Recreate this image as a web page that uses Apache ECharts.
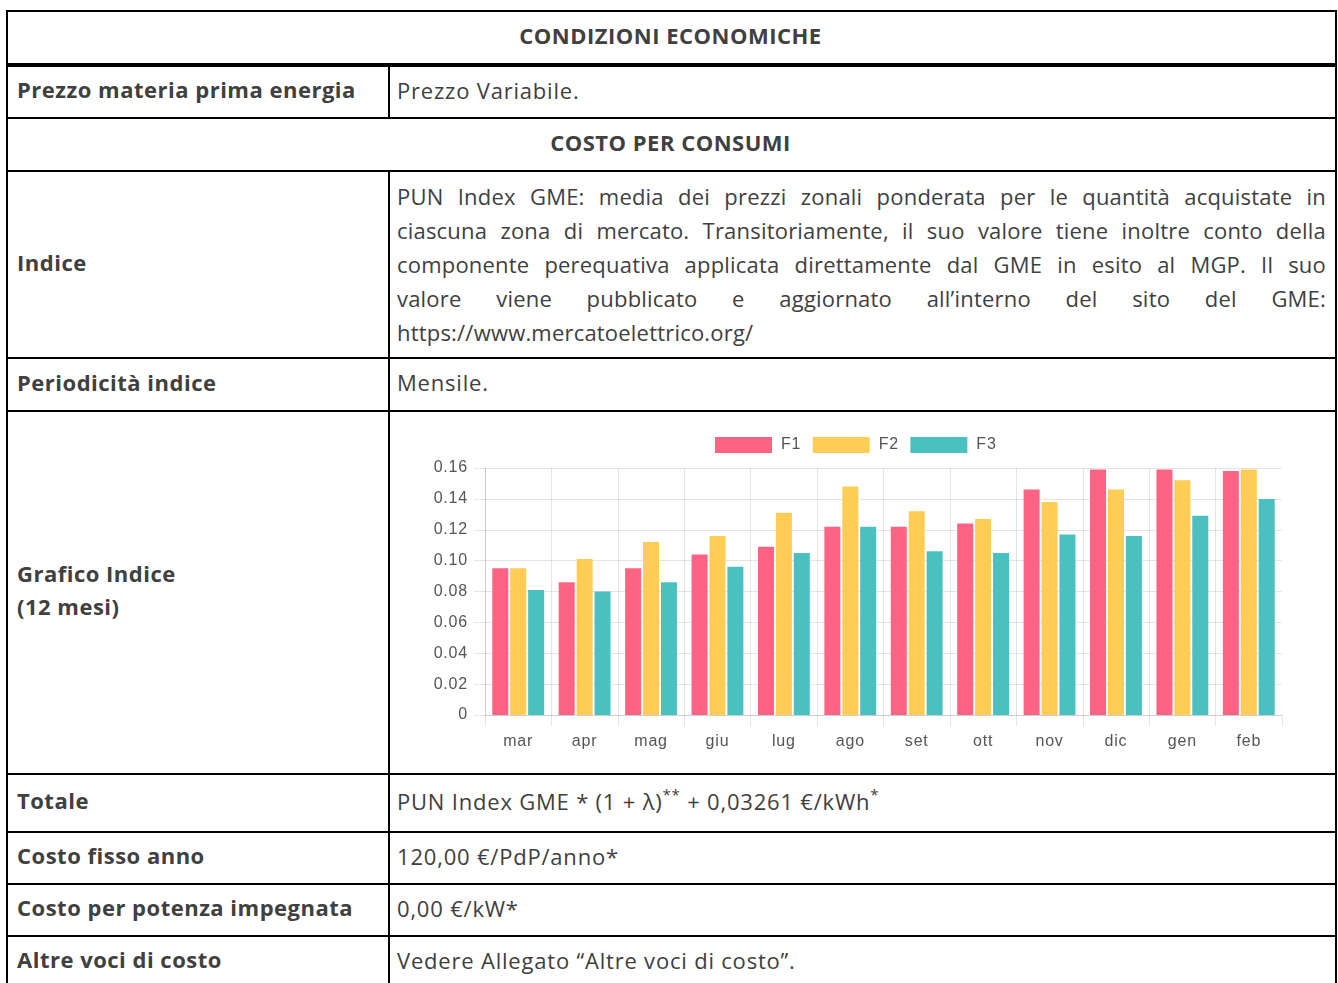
<!DOCTYPE html>
<html>
<head>
<meta charset="utf-8">
<script src="https://cdn.jsdelivr.net/npm/echarts@6/dist/echarts.min.js"></script>
<style>
  body { margin: 0; background: #fff; font-family: "Open Sans", sans-serif; color: #404040; }
  table { position: absolute; left: 6px; top: 10px; width: 1331px; border-collapse: collapse; table-layout: fixed; }
  td { border: 2px solid #000; padding: 0 9px 5px 7px; font-size: 22px; letter-spacing: 0.8px; vertical-align: middle; }
  td.lab { font-weight: 700; letter-spacing: 0.5px; padding-left: 9px; line-height: 33px; }
  td.head { text-align: center; font-weight: 700; letter-spacing: 0.5px; }
  tr.first td { border-bottom: 4px solid #000; }
  td.just { letter-spacing: 0.2px; padding-bottom: 2px; }
  .just div { text-align: justify; text-align-last: justify; line-height: 34px; white-space: nowrap; }
  .just div.last { text-align-last: left; }
  sup { font-size: 15px; vertical-align: 10px; line-height: 0; }
  #chart3 { width: 946px; height: 361px; }
</style>
</head>
<body>
<table>
  <colgroup><col style="width:382px"><col></colgroup>
  <tr class="first" style="height:54px"><td class="head" colspan="2">CONDIZIONI ECONOMICHE</td></tr>
  <tr style="height:53px"><td class="lab">Prezzo materia prima energia</td><td>Prezzo Variabile.</td></tr>
  <tr style="height:53px"><td class="head" colspan="2">COSTO PER CONSUMI</td></tr>
  <tr style="height:187px"><td class="lab">Indice</td>
    <td class="just">
      <div>PUN Index GME: media dei prezzi zonali ponderata per le quantità acquistate in</div>
      <div>ciascuna zona di mercato. Transitoriamente, il suo valore tiene inoltre conto della</div>
      <div>componente perequativa applicata direttamente dal GME in esito al MGP. Il suo</div>
      <div>valore viene pubblicato e aggiornato all’interno del sito del GME:</div>
      <div class="last">https://www.mercatoelettrico.org/</div>
    </td></tr>
  <tr style="height:53px"><td class="lab">Periodicità indice</td><td>Mensile.</td></tr>
  <tr style="height:363px"><td class="lab">Grafico Indice<br>(12 mesi)</td>
    <td style="padding:0"><div id="chart3"></div></td></tr>
  <tr style="height:58px"><td class="lab">Totale</td><td>PUN Index GME * (1 + λ)<sup>**</sup> + 0,03261 €/kWh<sup>*</sup></td></tr>
  <tr style="height:52px"><td class="lab">Costo fisso anno</td><td>120,00 €/PdP/anno*</td></tr>
  <tr style="height:52px"><td class="lab">Costo per potenza impegnata</td><td>0,00 €/kW*</td></tr>
  <tr style="height:52px"><td class="lab">Altre voci di costo</td><td>Vedere Allegato “Altre voci di costo”.</td></tr>
</table>
<script>
  // dati PUN Index GME per fascia (€/kWh)
  const Data_Mesi = ['mar', 'apr', 'mag', 'giu', 'lug', 'ago', 'set', 'ott', 'nov', 'dic', 'gen', 'feb'];
  const Data_F1 = [0.095, 0.086, 0.095, 0.104, 0.109, 0.122, 0.122, 0.124, 0.146, 0.159, 0.159, 0.158];
  const Data_F2 = [0.095, 0.101, 0.112, 0.116, 0.131, 0.148, 0.132, 0.127, 0.138, 0.146, 0.152, 0.159];
  const Data_F3 = [0.081, 0.080, 0.086, 0.096, 0.105, 0.122, 0.106, 0.105, 0.117, 0.116, 0.129, 0.140];
  const Y_Max = 0.16;
  const Y_Step = 0.02;

  function renderGrafico() {
    const dom = document.getElementById('chart3');
    const chart = echarts.init(dom);
    const grigio = 'rgba(0,0,0,0.1)';
    const testo = { color: '#555', fontSize: 16, fontFamily: 'Liberation Sans, Arial, sans-serif' };
    const option = {
      animation: false,
      legend: {
        data: ['F1', 'F2', 'F3'],
        left: 320,
        top: 20,
        itemWidth: 57,
        itemHeight: 16,
        itemGap: 13,
        icon: 'rect',
        textStyle: Object.assign({ padding: [0, 0, 0, 4] }, testo)
      },
      grid: { left: 95, right: 54, top: 56, bottom: 58 },
      xAxis: {
        type: 'category',
        data: Data_Mesi,
        axisLine: { lineStyle: { color: grigio } },
        axisTick: { show: true, length: 11, lineStyle: { color: grigio } },
        splitLine: { show: true, showMaxLine: false, lineStyle: { color: grigio } },
        axisLabel: Object.assign({ margin: 19 }, testo)
      },
      yAxis: {
        type: 'value',
        min: 0,
        max: Y_Max,
        interval: Y_Step,
        axisLine: { show: true, lineStyle: { color: grigio } },
        axisTick: { show: true, length: 11, lineStyle: { color: grigio } },
        splitLine: { lineStyle: { color: grigio } },
        axisLabel: Object.assign({
          margin: 17,
          formatter: v => v === 0 ? '0' : v.toFixed(2)
        }, testo)
      },
      series: [
        { name: 'F1', type: 'bar', data: Data_F1, barWidth: 16, barGap: '12%', itemStyle: { color: '#ff6384' } },
        { name: 'F2', type: 'bar', data: Data_F2, barWidth: 16, barGap: '12%', itemStyle: { color: '#ffcd56' } },
        { name: 'F3', type: 'bar', data: Data_F3, barWidth: 16, barGap: '12%', itemStyle: { color: '#4bc0c0' } }
      ]
    };
    chart.setOption(option, true);
  }
  renderGrafico();
</script>
</body>
</html>
